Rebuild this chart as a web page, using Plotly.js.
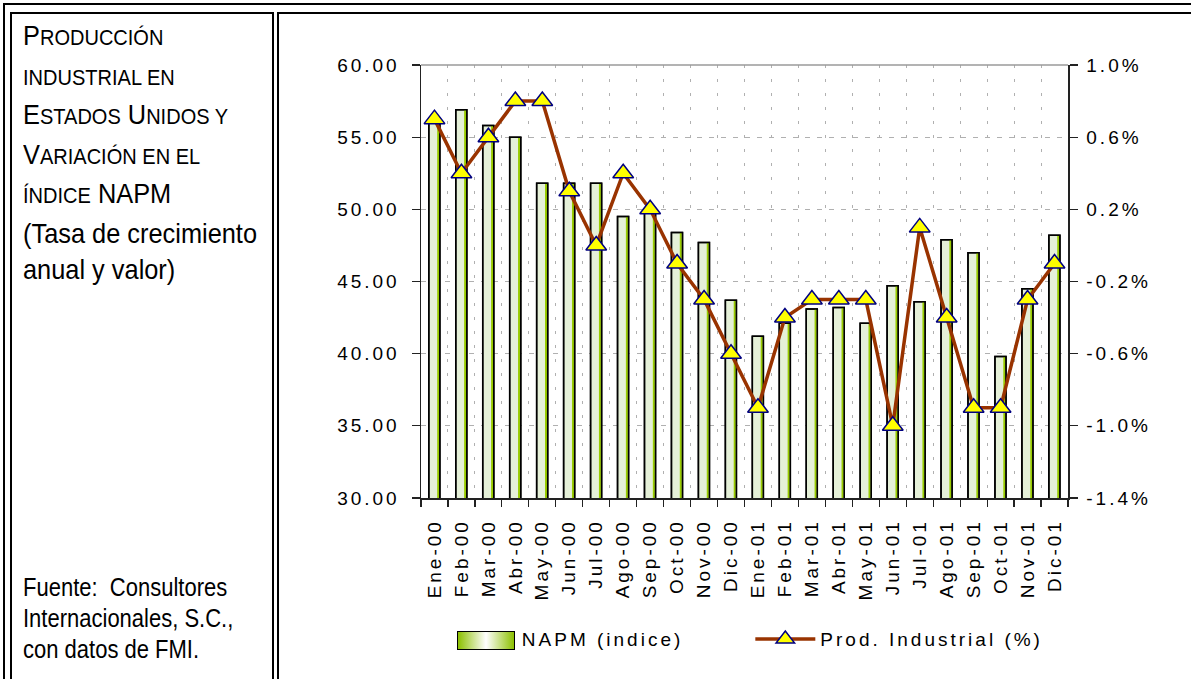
<!DOCTYPE html>
<html>
<head>
<meta charset="utf-8">
<script src="https://cdn.plot.ly/plotly-3.0.1.min.js"></script>
<style>
  body { margin: 0; background: #fff; }
  #page { position: relative; width: 1191px; height: 679px; overflow: hidden; background: #fff; }
  .rule { position: absolute; background: #000; }
  #chart { position: absolute; left: 0; top: 0; width: 1191px; height: 679px; }
  .side { position: absolute; left: 23px; color: #000; white-space: nowrap;
          font-family: "Liberation Sans", Arial, sans-serif;
          transform: scaleX(0.88); transform-origin: 0 0; }
  #heading { top: 17px; font-size: 28.5px; line-height: 36.5px; transform: scaleX(0.89); }
  #heading .sc { font-size: 22.5px; }
  #source { top: 572px; font-size: 25px; line-height: 31px; }
  #chart svg text { letter-spacing: 3px !important; }
  /* wide shaded key for the bar series, laid over Plotly's small square */
  #barkey { position: absolute; left: 457px; top: 631px; width: 56px; height: 17px; z-index: 5;
            border: 1.5px solid #000;
            background: linear-gradient(to right, #8cc000, #ffffff 50%, #8cc000); }
</style>
</head>
<body>
<div id="page">
  <!-- double-line table borders -->
  <div class="rule" style="left:3px; top:3px; width:1188px; height:2px;"></div>
  <div class="rule" style="left:3px; top:3px; width:2px; height:676px;"></div>
  <div class="rule" style="left:10px; top:12px; width:263px; height:2px;"></div>
  <div class="rule" style="left:10px; top:12px; width:2px; height:667px;"></div>
  <div class="rule" style="left:272px; top:12px; width:2px; height:667px;"></div>
  <div class="rule" style="left:277px; top:12px; width:914px; height:2px;"></div>
  <div class="rule" style="left:277px; top:12px; width:2px; height:667px;"></div>

  <div id="heading" class="side">P<span class="sc">RODUCCIÓN</span><br><span class="sc">INDUSTRIAL EN</span><br>E<span class="sc">STADOS</span> U<span class="sc">NIDOS Y</span><br>V<span class="sc">ARIACIÓN EN EL</span><br><span class="sc">ÍNDICE</span> NAPM<br>(Tasa de crecimiento<br>anual y valor)</div>
  <div id="source" class="side">Fuente:&nbsp; Consultores<br>Internacionales, S.C.,<br>con datos de FMI.</div>

  <div id="chart"></div>
  <div id="barkey"></div>
</div>
<script>
// months on the category axis
const months = ["Ene-00", "Feb-00", "Mar-00", "Abr-00", "May-00", "Jun-00", "Jul-00", "Ago-00",
  "Sep-00", "Oct-00", "Nov-00", "Dic-00", "Ene-01", "Feb-01", "Mar-01", "Abr-01", "May-01",
  "Jun-01", "Jul-01", "Ago-01", "Sep-01", "Oct-01", "Nov-01", "Dic-01"];
// NAPM index (left axis)
const napm = [56.3, 56.9, 55.8, 55.0, 51.8, 51.8, 51.8, 49.5, 49.9, 48.4, 47.7, 43.7,
  41.2, 42.1, 43.1, 43.2, 42.1, 44.7, 43.6, 47.9, 47.0, 39.8, 44.5, 48.2];
// industrial production, % (right axis)
const prodInd = [0.7, 0.4, 0.6, 0.8, 0.8, 0.3, 0.0, 0.4, 0.2, -0.1, -0.3, -0.6,
  -0.9, -0.4, -0.3, -0.3, -0.3, -1.0, 0.1, -0.4, -0.9, -0.9, -0.3, -0.1];
// right axis ticks
const pctTicks = [-1.4, -1.0, -0.6, -0.2, 0.2, 0.6, 1.0];
const pctLabels = ["-1.4%", "-1.0%", "-0.6%", "-0.2%", "0.2%", "0.6%", "1.0%"];

const tickFont = { family: "Liberation Sans, Arial, sans-serif", size: 19, color: "#000" };

const traces = [
  { // bar body
    type: "bar", x: months, y: napm, name: "NAPM (indice)",
    width: 0.41, offset: -0.21,
    marker: { color: "#e5f0d8", line: { color: "#000", width: 1.5 } },
    hoverinfo: "skip"
  },
  { // green shading stripe on the right side of each bar
    type: "bar", x: months, y: napm, showlegend: false,
    width: 0.075, offset: 0.1,
    marker: { color: "#99cc00", line: { width: 0 } },
    hoverinfo: "skip"
  },
  { // outline on top
    type: "bar", x: months, y: napm, showlegend: false,
    width: 0.41, offset: -0.21,
    marker: { color: "rgba(0,0,0,0)", line: { color: "#000", width: 1.5 } },
    hoverinfo: "skip"
  },
  {
    type: "scatter", mode: "lines+markers", x: months, y: prodInd, yaxis: "y2",
    name: "Prod. Industrial (%)", legend: "legend2",
    line: { color: "#993300", width: 3.5 },
    marker: { symbol: "triangle-up", size: 18, color: "#ffff00", line: { color: "#000080", width: 1.5 } },
    cliponaxis: false
  }
];

const layout = {
  width: 1191, height: 679,
  margin: { l: 421, r: 123, t: 65, b: 181 },
  paper_bgcolor: "rgba(0,0,0,0)",
  plot_bgcolor: "#fff",
  barmode: "overlay",
  font: tickFont,
  xaxis: {
    type: "category", range: [-0.5, 23.5],
    tickson: "boundaries", ticks: "outside", ticklen: 7, tickwidth: 1.2, tickcolor: "#222",
    ticklabelstandoff: 12,
    showline: true, linecolor: "#222", linewidth: 1.5,
    showgrid: true, gridcolor: "#b0b0b0", griddash: "3px,11px", gridwidth: 1,
    tickangle: -90, tickfont: tickFont
  },
  yaxis: {
    range: [30, 60], tick0: 30, dtick: 5, tickformat: ".2f",
    ticks: "outside", ticklen: 8, tickwidth: 1.2, tickcolor: "#222", ticklabelstandoff: 8,
    showline: true, linecolor: "#222", linewidth: 1.5,
    showgrid: true, gridcolor: "#b0b0b0", griddash: "5px,7px", zeroline: false,
    tickfont: tickFont
  },
  yaxis2: {
    overlaying: "y", side: "right", range: [-1.4, 1.0],
    tickmode: "array", tickvals: pctTicks, ticktext: pctLabels,
    ticks: "outside", ticklen: 8, tickwidth: 1.2, tickcolor: "#222", ticklabelstandoff: 5,
    showline: true, linecolor: "#222", linewidth: 1.5,
    showgrid: false, zeroline: false, tickfont: tickFont
  },
  showlegend: true,
  legend: {
    orientation: "h", x: 0.094, xanchor: "left", y: -0.326, yanchor: "middle",
    entrywidth: 220, entrywidthmode: "pixels",
    bgcolor: "rgba(0,0,0,0)", font: tickFont
  },
  legend2: {
    orientation: "h", x: 0.509, xanchor: "left", y: -0.326, yanchor: "middle",
    itemwidth: 60, entrywidth: 270, entrywidthmode: "pixels",
    bgcolor: "rgba(0,0,0,0)", font: tickFont
  },
  shapes: [{
    type: "line", xref: "paper", yref: "paper", x0: 0, x1: 1, y0: 1, y1: 1,
    line: { color: "#9a9a9a", width: 1.5 }
  }]
};

Plotly.newPlot("chart", traces, layout, { displayModeBar: false, staticPlot: true });
</script>
</body>
</html>
